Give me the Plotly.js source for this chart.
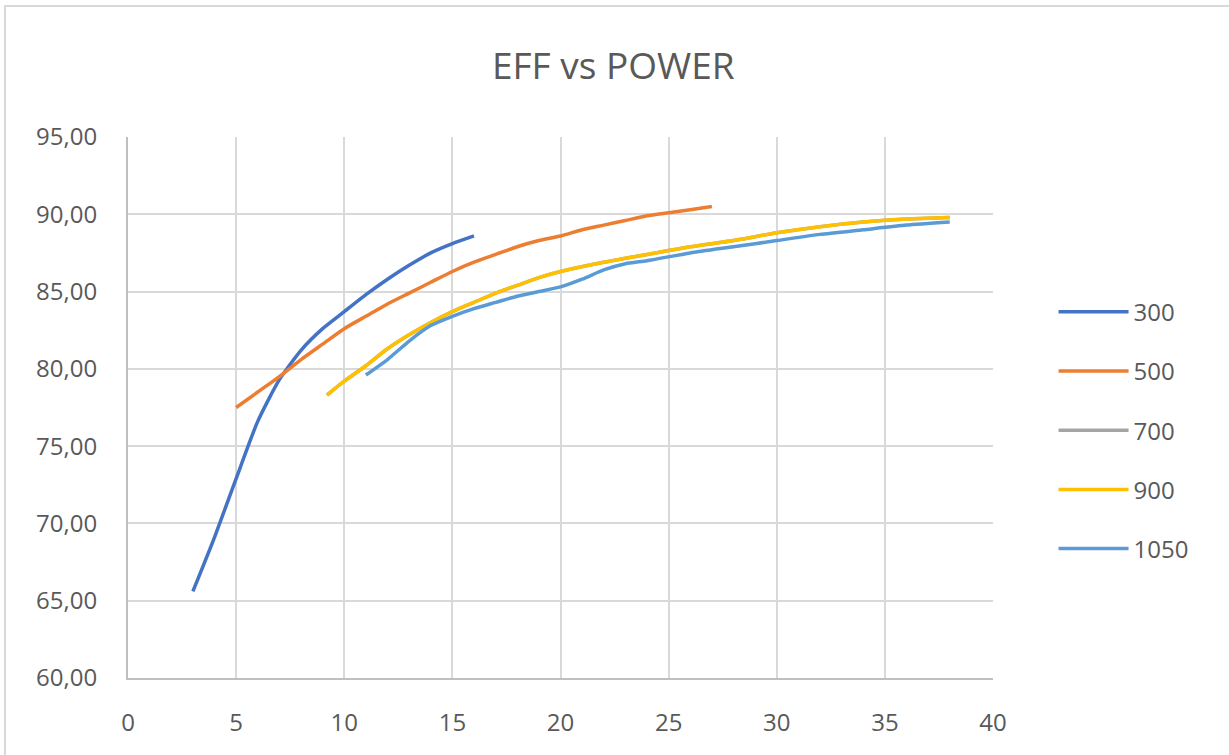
<!DOCTYPE html>
<html>
<head>
<meta charset="utf-8">
<script src="https://cdn.plot.ly/plotly-3.0.1.min.js"></script>
<style>
  html, body { margin: 0; padding: 0; background: #ffffff; overflow: hidden; }
  #chart { width: 1229px; height: 755px; }
  #frame { position: absolute; left: 4px; top: 5px; width: 1400px; height: 900px; border: 2px solid #D9D9D9; pointer-events: none; }
</style>
</head>
<body>
<div id="chart"></div>
<div id="frame"></div>
<script>
// Series names
const seriesNames = ["300", "500", "700", "900", "1050"];

// 300
const x300 = [3, 4, 5, 6, 7, 8, 9, 10, 11, 12, 13, 14, 15, 16];
const y300 = [65.6, 69.1, 72.9, 76.6, 79.3, 81.2, 82.6, 83.7, 84.8, 85.8, 86.7, 87.5, 88.1, 88.6];

// 500
const x500 = [5, 6, 7, 8, 9, 10, 11, 12, 13, 14, 15, 16, 17, 18, 19, 20, 21, 22, 23, 24, 25, 26, 27];
const y500 = [77.5, 78.5, 79.5, 80.6, 81.6, 82.6, 83.4, 84.2, 84.9, 85.6, 86.3, 86.9, 87.4, 87.9, 88.3, 88.6, 89.0, 89.3, 89.6, 89.9, 90.1, 90.3, 90.5];

// 700 (hidden underneath 900 in the reference: same values)
const x700 = [9.2, 10, 11, 12, 13, 14, 15, 16, 17, 18, 19, 20, 22, 24, 26, 28, 30, 32, 34, 36, 38];
const y700 = [78.3, 79.2, 80.2, 81.3, 82.2, 83.0, 83.7, 84.3, 84.9, 85.4, 85.9, 86.3, 86.9, 87.4, 87.9, 88.3, 88.8, 89.2, 89.5, 89.7, 89.8];

// 900
const x900 = [9.2, 10, 11, 12, 13, 14, 15, 16, 17, 18, 19, 20, 22, 24, 26, 28, 30, 32, 34, 36, 38];
const y900 = [78.3, 79.2, 80.2, 81.3, 82.2, 83.0, 83.7, 84.3, 84.9, 85.4, 85.9, 86.3, 86.9, 87.4, 87.9, 88.3, 88.8, 89.2, 89.5, 89.7, 89.8];

// 1050
const x1050 = [11, 12, 13, 14, 15, 16, 17, 18, 19, 20, 21, 22, 23, 24, 26, 28, 30, 32, 34, 36, 38];
const y1050 = [79.6, 80.6, 81.8, 82.8, 83.4, 83.9, 84.3, 84.7, 85.0, 85.3, 85.8, 86.4, 86.8, 87.0, 87.5, 87.9, 88.3, 88.7, 89.0, 89.3, 89.5];

const colors = ["#4472C4", "#ED7D31", "#A5A5A5", "#FFC000", "#5B9BD5"];
const xs = [x300, x500, x700, x900, x1050];
const ys = [y300, y500, y700, y900, y1050];

const traces = seriesNames.map((name, i) => ({
  type: "scatter",
  mode: "lines",
  name: name,
  x: xs[i],
  y: ys[i],
  legendgroup: "g" + i,
  line: { color: colors[i], width: 3.5, shape: "spline", smoothing: 0.6 },
  hoverinfo: "x+y+name"
}));

const fontFam = "'Open Sans', 'Noto Sans', sans-serif";

const layout = {
  width: 1229,
  height: 755,
  paper_bgcolor: "#ffffff",
  plot_bgcolor: "#ffffff",
  margin: { l: 128, r: 236, t: 137, b: 77, pad: 0 },
  separators: ",.",
  font: { family: fontFam, color: "#595959", size: 24 },
  title: {
    text: "EFF vs POWER",
    font: { family: fontFam, size: 37, color: "#595959" },
    x: 0.499, xanchor: "center",
    y: 0.912, yanchor: "middle"
  },
  xaxis: {
    range: [0, 40],
    dtick: 5,
    tick0: 0,
    showgrid: true,
    gridcolor: "#D9D9D9",
    gridwidth: 2,
    zeroline: false,
    showline: true,
    linecolor: "#BFBFBF",
    linewidth: 2,
    ticks: "",
    ticklabelstandoff: 22,
    tickfont: { family: fontFam, size: 24, color: "#595959" },
    fixedrange: true
  },
  yaxis: {
    range: [60, 95],
    dtick: 5,
    tick0: 60,
    tickformat: ".2f",
    showgrid: true,
    gridcolor: "#D9D9D9",
    gridwidth: 2,
    zeroline: false,
    showline: true,
    linecolor: "#BFBFBF",
    linewidth: 2,
    ticks: "",
    ticklabelstandoff: 24,
    tickfont: { family: fontFam, size: 24, color: "#595959" },
    fixedrange: true
  },
  legend: {
    x: 1.07,
    xanchor: "left",
    y: 0.458,
    yanchor: "middle",
    font: { family: fontFam, size: 24, color: "#595959" },
    itemwidth: 70,
    tracegroupgap: 25,
    bgcolor: "rgba(0,0,0,0)"
  },
  showlegend: true
};

Plotly.newPlot("chart", traces, layout, { displayModeBar: false, staticPlot: true });
</script>
</body>
</html>
